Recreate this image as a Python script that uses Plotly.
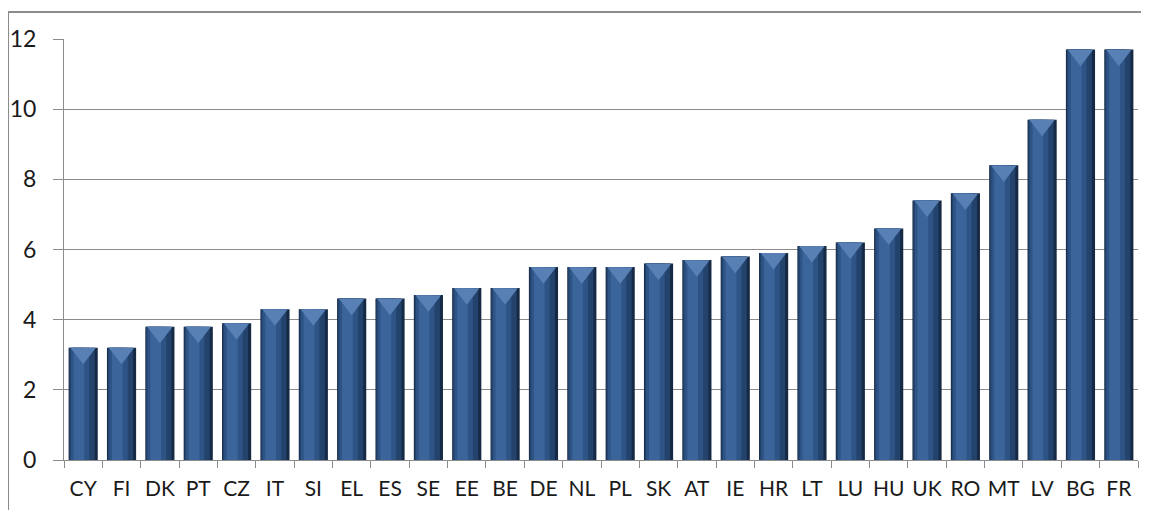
import plotly.graph_objects as go

countries = ["CY", "FI", "DK", "PT", "CZ", "IT", "SI", "EL", "ES", "SE", "EE", "BE", "DE", "NL",
             "PL", "SK", "AT", "IE", "HR", "LT", "LU", "HU", "UK", "RO", "MT", "LV", "BG", "FR"]
values = [3.2, 3.2, 3.8, 3.8, 3.9, 4.3, 4.3, 4.6, 4.6, 4.7, 4.9, 4.9, 5.5, 5.5,
          5.5, 5.6, 5.7, 5.8, 5.9, 6.1, 6.2, 6.6, 7.4, 7.6, 8.4, 9.7, 11.7, 11.7]
y_ticks = [0, 2, 4, 6, 8, 10, 12]

FONT = "Lato, 'Open Sans', sans-serif"
fig = go.Figure()

# layered bars to imitate the shaded 3-D look
layers = [
    (0.76, -0.38, "#162a45"),
    (0.66, -0.36, "#24436c"),
    (0.48, -0.32, "#2e5486"),
    (0.28, -0.25, "#3a649a"),
]
for w, off, col in layers:
    fig.add_trace(go.Bar(x=countries, y=values, width=w, offset=off,
                         marker=dict(color=col, line=dict(width=0)),
                         hoverinfo="skip", showlegend=False))

# bevel triangle on bar tops
fig.add_trace(go.Scatter(x=countries, y=[v - 0.16 for v in values], mode="markers",
                         marker=dict(symbol="triangle-down", size=22, color="#5880b5",
                                     line=dict(width=0)),
                         hoverinfo="skip", showlegend=False))

fig.update_layout(
    width=1149, height=510,
    margin=dict(l=56, r=19, t=31, b=58),
    barmode="overlay",
    plot_bgcolor="white", paper_bgcolor="white",
    font=dict(family=FONT, size=21, color="#1a1a1a"),
    xaxis=dict(type="category", showgrid=False, showline=True, linecolor="#8c8c8c", linewidth=1,
               ticks="outside", tickson="boundaries", ticklen=7, tickcolor="#8c8c8c",
               tickangle=0, tickfont=dict(size=21), ticklabelstandoff=10, automargin=False,
               range=[-0.5, 27.5], fixedrange=True),
    yaxis=dict(range=[0, 12], tickvals=y_ticks, showgrid=True, gridcolor="#8c8c8c", gridwidth=1,
               showline=True, linecolor="#8c8c8c", linewidth=1, ticks="outside", ticklen=10,
               tickcolor="#8c8c8c", tickfont=dict(size=23), ticklabelstandoff=12,
               automargin=False, zeroline=False),
    shapes=[dict(type="rect", xref="paper", yref="paper", x0=-0.0521, x1=1.3, y0=-0.3, y1=1.0641,
                 line=dict(color="#8c8c8c", width=2), fillcolor="rgba(0,0,0,0)", layer="below")],
)

fig.write_html("out.html")
